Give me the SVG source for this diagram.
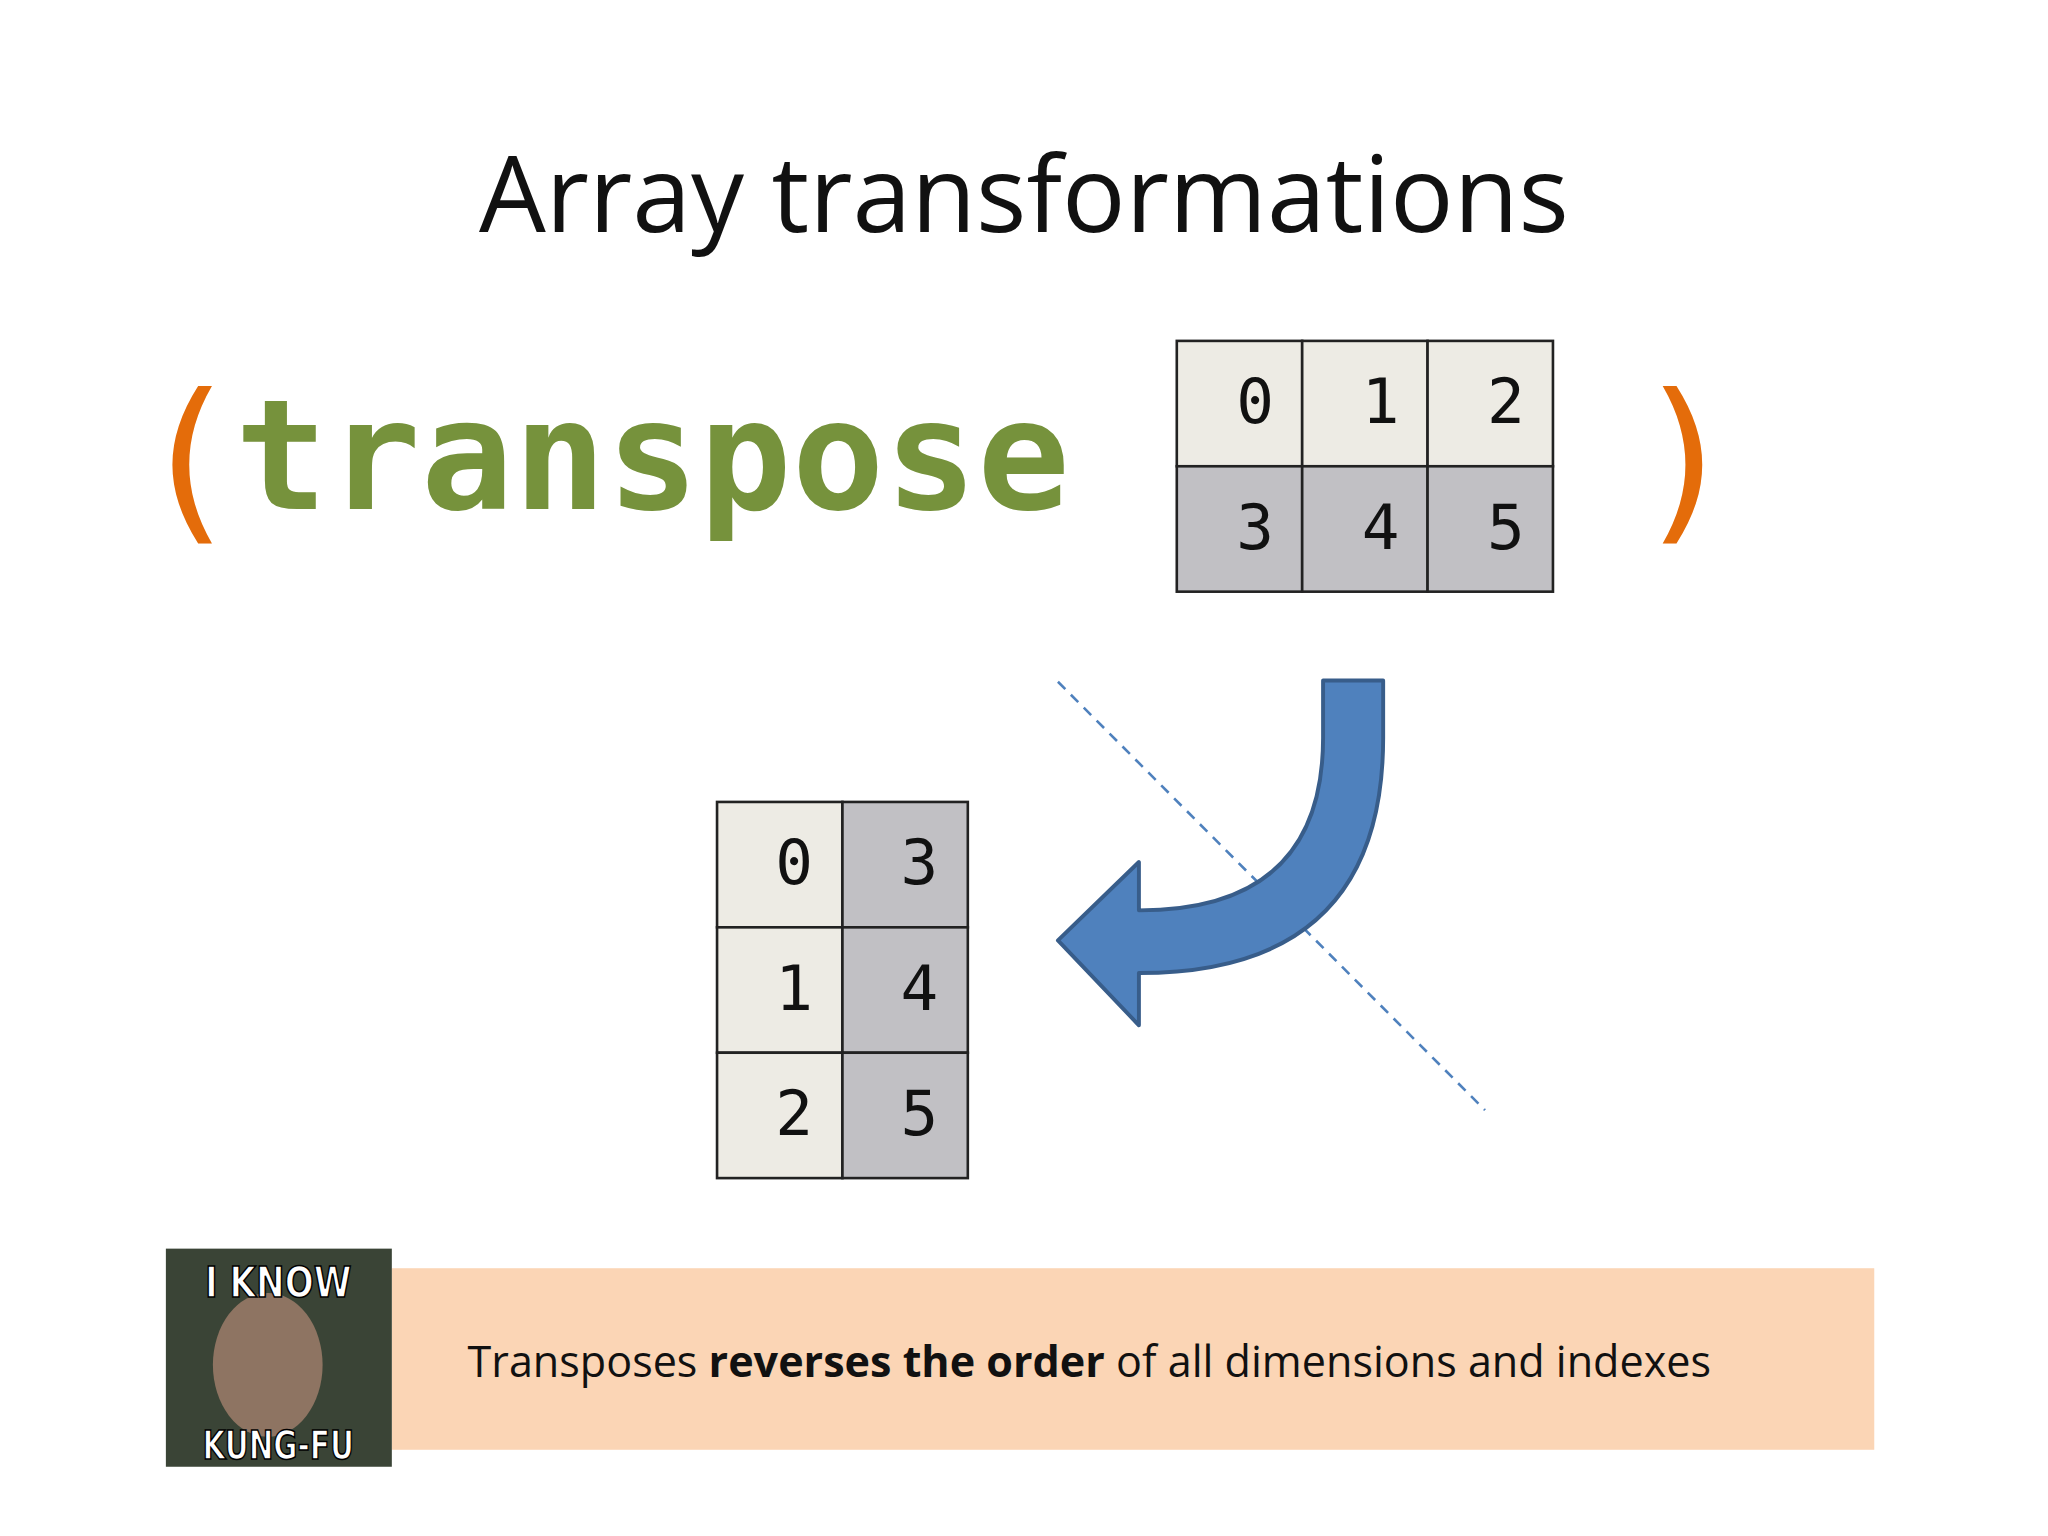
<svg xmlns="http://www.w3.org/2000/svg" width="2048" height="1536" viewBox="0 0 2048 1536">
<style>
.cellL{fill:#EDEBE4;stroke:#222;stroke-width:2}
.cellD{fill:#C1C0C4;stroke:#222;stroke-width:2}
.num{font-family:"DejaVu Sans Mono",monospace;font-size:48px;fill:#111;text-anchor:middle}
</style>
<rect width="2048" height="1536" fill="#fff"/>
<g transform="scale(1.3061)">
<g id="title"><text x="784" y="178" font-family="Open Sans, sans-serif" font-size="81" text-anchor="middle" fill="#111">Array transformations</text></g>
<g id="code">
<text x="104" y="398" font-family="DejaVu Sans Mono, monospace" font-size="135" fill="#E46C0A">(</text>
<text x="180" y="390" font-family="DejaVu Sans Mono, monospace" font-weight="bold" font-size="118" fill="#76923C">transpose</text>
<text x="1250" y="398" font-family="DejaVu Sans Mono, monospace" font-size="135" fill="#E46C0A">)</text>
</g>
<g id="grid-top">
<rect class="cellL" x="901" y="261" width="96" height="96"/><rect class="cellL" x="997" y="261" width="96" height="96"/><rect class="cellL" x="1093" y="261" width="96" height="96"/>
<rect class="cellD" x="901" y="357" width="96" height="96"/><rect class="cellD" x="997" y="357" width="96" height="96"/><rect class="cellD" x="1093" y="357" width="96" height="96"/>
<text class="num" x="961" y="324">0</text><text class="num" x="1057" y="324">1</text><text class="num" x="1153" y="324">2</text>
<text class="num" x="961" y="420">3</text><text class="num" x="1057" y="420">4</text><text class="num" x="1153" y="420">5</text>
</g>
<g id="grid-bottom">
<rect class="cellL" x="549" y="614" width="96" height="96"/><rect class="cellD" x="645" y="614" width="96" height="96"/>
<rect class="cellL" x="549" y="710" width="96" height="96"/><rect class="cellD" x="645" y="710" width="96" height="96"/>
<rect class="cellL" x="549" y="806" width="96" height="96"/><rect class="cellD" x="645" y="806" width="96" height="96"/>
<text class="num" x="608" y="677">0</text><text class="num" x="704" y="677">3</text>
<text class="num" x="608" y="773">1</text><text class="num" x="704" y="773">4</text>
<text class="num" x="608" y="869">2</text><text class="num" x="704" y="869">5</text>
</g>
<g id="connectors">
<line x1="810" y1="522" x2="1137" y2="850" stroke="#4F81BD" stroke-width="2" stroke-dasharray="8,6"/>
<path d="M1013,521 L1059,521 L1059,565 Q1059,745 872,745 L872,785 L810,720 L872,660 L872,697 Q1013,697 1013,565 Z" fill="#4F81BD" stroke="#385D8A" stroke-width="3" stroke-linejoin="round"/>
</g>
<g id="banner">
<rect x="300" y="971" width="1135" height="139" fill="#FBD5B5"/>
<text x="358" y="1054" font-family="Open Sans, sans-serif" font-size="33" fill="#111">Transposes <tspan font-weight="bold">reverses the order</tspan> of all dimensions and indexes</text>
</g>
<g id="meme">
<rect x="127" y="956" width="173" height="167" fill="#3A4436"/>
<ellipse cx="205" cy="1045" rx="42" ry="55" fill="#8E7462"/>
<text x="213" y="993" font-family="DejaVu Sans Condensed, sans-serif" font-weight="bold" font-size="32" fill="#fff" stroke="#000" stroke-width="1.2" text-anchor="middle" textLength="112" lengthAdjust="spacingAndGlyphs">I KNOW</text>
<text x="213" y="1117" font-family="DejaVu Sans Condensed, sans-serif" font-weight="bold" font-size="30" fill="#fff" stroke="#000" stroke-width="1.2" text-anchor="middle" textLength="116" lengthAdjust="spacingAndGlyphs">KUNG-FU</text>
</g>
</g>
</svg>
